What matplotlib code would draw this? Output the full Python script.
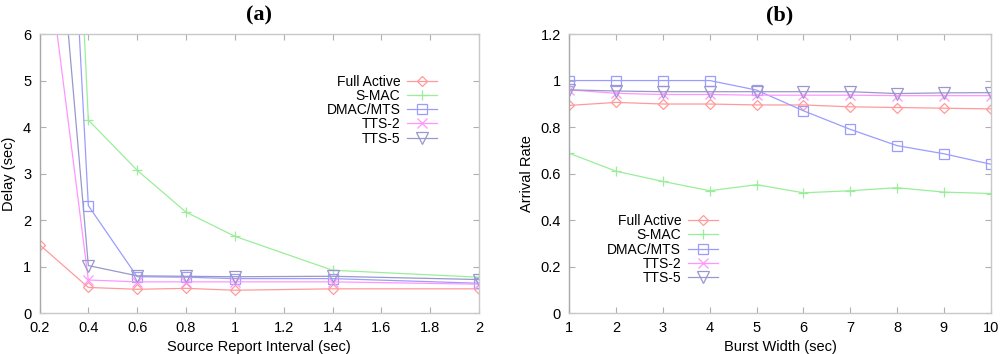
import matplotlib
matplotlib.use('Agg')
import matplotlib.pyplot as plt
import numpy as np

# (a) delay vs source report interval
interval = [0.2, 0.4, 0.6, 0.8, 1.0, 1.4, 2.0]
delay_full = [1.47, 0.55, 0.51, 0.53, 0.49, 0.52, 0.52]
delay_smac = [26.7, 4.15, 3.07, 2.17, 1.65, 0.92, 0.77]
delay_dmac = [22.3, 2.31, 0.78, 0.77, 0.74, 0.74, 0.64]
delay_tts2 = [9.0, 0.71, 0.67, 0.67, 0.67, 0.67, 0.62]
delay_tts5 = [13.2, 1.02, 0.80, 0.79, 0.78, 0.79, 0.72]

# (b) arrival rate vs burst width
burst = [1, 2, 3, 4, 5, 6, 7, 8, 9, 10]
rate_full = [0.893, 0.906, 0.899, 0.899, 0.895, 0.895, 0.887, 0.884, 0.881, 0.878]
rate_smac = [0.687, 0.61, 0.566, 0.526, 0.552, 0.517, 0.526, 0.539, 0.52, 0.514]
rate_dmac = [1.0, 1.0, 1.0, 1.0, 0.959, 0.87, 0.79, 0.72, 0.685, 0.64]
rate_tts2 = [0.96, 0.945, 0.94, 0.94, 0.937, 0.937, 0.937, 0.935, 0.935, 0.935]
rate_tts5 = [0.96, 0.955, 0.952, 0.952, 0.952, 0.952, 0.952, 0.944, 0.947, 0.948]

names = ['Full Active', 'S-MAC', 'DMAC/MTS', 'TTS-2', 'TTS-5']
colors = ['#ff9a9a', '#9aee9a', '#9c9cff', '#ff96ff', '#9898cc']
markers = ['D', '+', 's', 'x', 'v']
msizes = [5.5, 7, 7.5, 7, 8]

plt.rcParams['font.family'] = ['Liberation Sans', 'DejaVu Sans']
plt.rcParams['font.size'] = 10.5

fig = plt.figure(figsize=(10, 3.54), dpi=100)
ax1 = fig.add_axes([0.0395, 0.1158, 0.4395, 0.788])
ax2 = fig.add_axes([0.5693, 0.1158, 0.4214, 0.788])


def style(ax):
    for s in ax.spines.values():
        s.set_color('#c8c8c8')
        s.set_linewidth(1.0)
    ax.spines['left'].set_color('#a8a8a8')
    ax.tick_params(direction='in', length=4, color='#b0b0b0', top=True, right=True,
                   labelsize=10.5, pad=6)


series_a = [delay_full, delay_smac, delay_dmac, delay_tts2, delay_tts5]
for y, n, c, m, ms in zip(series_a, names, colors, markers, msizes):
    ax1.plot(interval, y, color=c, lw=0.9, marker=m, ms=ms, mfc='none', mec=c,
             mew=0.9, label=n)
ax1.set_xlim(0.2, 2)
ax1.set_ylim(0, 6)
ax1.set_xticks([0.2, 0.4, 0.6, 0.8, 1, 1.2, 1.4, 1.6, 1.8, 2])
ax1.set_xticklabels(['0.2', '0.4', '0.6', '0.8', '1', '1.2', '1.4', '1.6', '1.8', '2'])
ax1.set_yticks(range(7))
ax1.set_xlabel('Source Report Interval (sec)', labelpad=3)
ax1.set_ylabel('Delay (sec)', labelpad=5)
ax1.set_title('(a)', fontfamily='Liberation Serif', fontweight='bold', fontsize=16, pad=10)
style(ax1)
ax1.legend(loc='upper right', bbox_to_anchor=(0.905, 0.855), frameon=False,
           markerfirst=False, handlelength=2.15, labelspacing=0.02, handletextpad=0.5,
           fontsize=10, borderaxespad=0, borderpad=0)

series_b = [rate_full, rate_smac, rate_dmac, rate_tts2, rate_tts5]
for y, n, c, m, ms in zip(series_b, names, colors, markers, msizes):
    ax2.plot(burst, y, color=c, lw=0.9, marker=m, ms=ms, mfc='none', mec=c,
             mew=0.9, label=n)
ax2.set_xlim(1, 10)
ax2.set_ylim(0, 1.2)
ax2.set_xticks(burst)
ax2.set_yticks([0, 0.2, 0.4, 0.6, 0.8, 1, 1.2])
ax2.set_yticklabels(['0', '0.2', '0.4', '0.6', '0.8', '1', '1.2'])
ax2.set_xlabel('Burst Width (sec)', labelpad=3)
ax2.set_ylabel('Arrival Rate', labelpad=5)
ax2.set_title('(b)', fontfamily='Liberation Serif', fontweight='bold', fontsize=16, pad=10)
style(ax2)
ax2.legend(loc='upper right', bbox_to_anchor=(0.353, 0.355), frameon=False,
           markerfirst=False, handlelength=2.15, labelspacing=0.02, handletextpad=0.5,
           fontsize=10, borderaxespad=0, borderpad=0)

fig.savefig('out.png', dpi=100)
